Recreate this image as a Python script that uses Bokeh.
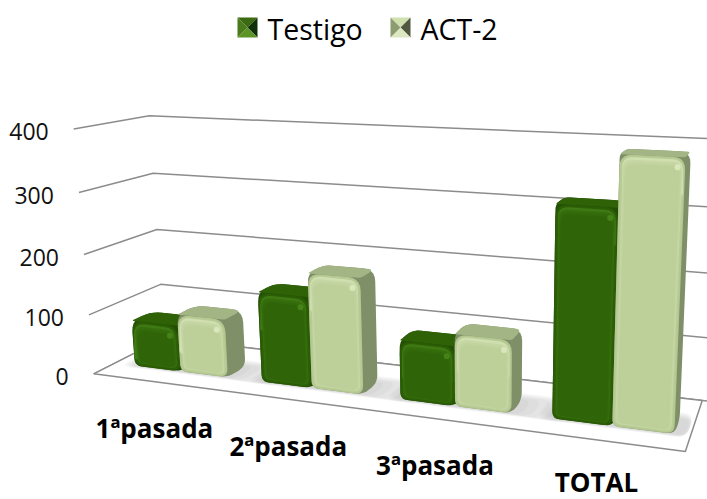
import numpy as np
from bokeh.embed import file_html
from bokeh.resources import INLINE
from bokeh.plotting import figure
from bokeh.core.properties import value

# ---- chart data
categories = ["1ªpasada", "2ªpasada", "3ªpasada", "TOTAL"]
testigo = [78, 148, 94, 318]
act2 = [97, 186, 113, 392]
series_names = ["Testigo", "ACT-2"]
y_ticks = [0, 100, 200, 300, 400]
Y_MAX = 400

FONT = "Open Sans"
W, H = 707, 499

# ---- perspective camera of the 3-D chart box: (u along categories, w depth, h value share) -> picture
calib_world = [(0, 0, 0), (0, 0, 1), (0, 1, 0), (0, 1, 1), (1, 1, 0), (1, 1, 1), (1, 0, 0), (1, 0, 1)]
calib_pix = [(92, 375), (75, 131), (165, 336), (147, 113), (704, 400), (712, 143), (682, 451), (700, 152)]


def fit_camera(world, pix):
    A, b = [], []
    for (u, w, h), (x, y) in zip(world, pix):
        A.append([u, w, h, 1, 0, 0, 0, 0, -x * u, -x * w, -x * h])
        b.append(x)
        A.append([0, 0, 0, 0, u, w, h, 1, -y * u, -y * w, -y * h])
        b.append(y)
    s = np.linalg.lstsq(np.array(A, float), np.array(b, float), rcond=None)[0]
    return np.append(s, 1).reshape(3, 4)


CAM = fit_camera(calib_world, calib_pix)


def proj(u, w, v):
    q = CAM @ np.array([u, w, v / Y_MAX, 1.0])
    return q[0] / q[2], q[1] / q[2]


def rounded(pts, r=8.0, steps=6):
    """Fillet every corner of a polygon with a radius given in pixels."""
    pts = np.array(pts, float)
    n = len(pts)
    rs = np.full(n, r) if np.isscalar(r) else np.array(r, float)
    out = []
    for i in range(n):
        c = pts[i]
        a = pts[i - 1]
        b = pts[(i + 1) % n]
        la = np.linalg.norm(a - c)
        lb = np.linalg.norm(b - c)
        rr = min(rs[i], la * 0.48, lb * 0.48)
        s = c + (a - c) / max(la, 1e-6) * rr
        e = c + (b - c) / max(lb, 1e-6) * rr
        for t in np.linspace(0, 1, steps):
            out.append((1 - t) ** 2 * s + 2 * t * (1 - t) * c + t ** 2 * e)
    return np.array(out)


def shrink(pts, dx, top, bottom):
    """Move the corners of a 4-point face (TL, TR, BR, BL) inwards, in pixels."""
    q = np.array(pts, float)
    q[0] += (dx, top)
    q[1] += (-dx, top)
    q[2] += (-dx, -bottom)
    q[3] += (dx, -bottom)
    return q


def rgb(c):
    return [int(c[i:i + 2], 16) for i in (1, 3, 5)]


def mix(c1, c2, t):
    a = np.array(rgb(c1), float)
    b = np.array(rgb(c2), float)
    r = a + (b - a) * t
    return "#%02x%02x%02x" % tuple(int(round(v)) for v in r)


p = figure(width=W, height=H, x_range=(0, W), y_range=(H, 0), toolbar_location=None,
           output_backend="svg", min_border=0,
           background_fill_color="white", border_fill_color="white")
p.axis.visible = False
p.grid.visible = False
p.outline_line_color = None


def poly(pts, color, alpha=1.0):
    pts = np.array(pts)
    p.patch(pts[:, 0], pts[:, 1], fill_color=color, fill_alpha=alpha, line_color=None)


GRID = "#8c8c8c"
# walls' gridlines
for t in y_ticks:
    a = proj(0, 0, t)
    b = proj(0, 1, t)
    c = proj(1.03, 1, t)
    p.line([a[0], b[0], c[0]], [a[1], b[1], c[1]], line_color=GRID, line_width=1.5)

# floor, with its left and back edges behind the bars
fl = [proj(0, 0, 0), proj(1, 0, 0), proj(1, 1, 0), proj(0, 1, 0)]
poly(fl, "white")
p.line([fl[2][0], fl[3][0], fl[0][0]], [fl[2][1], fl[3][1], fl[0][1]], line_color=GRID, line_width=1.5)

# ---- bars
CAT_W = 1 / len(categories)
BAR_U = 0.37 * CAT_W
U_SHIFT = 0.009
W0, W1 = 0.28, 0.56


def shadow(u0, u1):
    for k in range(6):
        e = 0.004 * (6 - k)
        ur = min(u1 + e * 4, 0.995)
        pts = [proj(u0 - e, W0 - e * 2, 0), proj(ur, W0 - e * 2, 0),
               proj(ur, W1 + e * 6, 0), proj(u0 - e, W1 + e * 6, 0)]
        poly(rounded(pts, 10), "#808080", 0.06)


def bar(u0, u1, v, front, edge, top_c, side, hi):
    a, b = W0, W1
    F = [proj(u0, a, v), proj(u1, a, v), proj(u1, a, 0), proj(u0, a, 0)]
    T = [proj(u0, b, v), proj(u1, b, v), proj(u1, a, v), proj(u0, a, v)]
    hull = [F[0], T[0], T[1], proj(u1, b, 0), F[2], F[3]]
    poly(rounded(hull, [12, 12, 12, 8, 8, 7]), side)
    poly(rounded(T, [11, 11, 2, 2]), top_c)
    # soft rim of the front face, then the top bevel, then the flat body
    poly(rounded(F, [13, 13, 9, 7]), edge)
    for k, t in enumerate([0.35, 0.7]):
        poly(rounded(shrink(F, 1 + k, 1 + k, 1 + k), [12, 12, 8, 6]), mix(edge, front, t))
    top_band = shrink(F, 2.5, 2.5, 0)
    top_band[2] = (top_band[1][0], top_band[1][1] + 36)
    top_band[3] = (top_band[0][0], top_band[0][1] + 36)
    poly(rounded(top_band, [11, 11, 3, 3]), mix(front, hi, 0.55))
    for k, t in enumerate([0.35, 0.7, 1.0]):
        poly(rounded(shrink(F, 3 + k * 1.2, 5 + k * 2.2, 2.5 + k * 0.5), [10, 10, 7, 5]), mix(hi, front, 0.6 + t * 0.4))
    # glossy corner at the upper right of the face
    p.scatter([F[1][0] - 8], [F[1][1] + 10], size=6, fill_color=hi, fill_alpha=0.8, line_color=None)


for i in range(len(categories)):
    um = (i + 0.5) * CAT_W + U_SHIFT
    shadow(um - BAR_U, um + BAR_U)
    bar(um - BAR_U, um, testigo[i], "#2f6408", "#2a5a06", "#2f6106", "#234f04", "#4a8a1c")
    bar(um, um + BAR_U, act2[i], "#bdd09a", "#b2c690", "#a3b485", "#7f8f68", "#e0ecc2")

# floor's front and right edges stay in front of the shadows
p.line([fl[0][0], fl[1][0], fl[2][0]], [fl[0][1], fl[1][1], fl[2][1]], line_color=GRID, line_width=1.5)

# ---- value labels
for t in y_ticks:
    x, y = proj(0, 0, t)
    p.text([x - 25], [y + 3], text=[str(t)], text_font=value(FONT), text_font_size="23px",
           text_align="right", text_baseline="middle", text_color="#111111")

# ---- category labels
for i, c in enumerate(categories):
    x, y = proj((i + 0.5) * CAT_W, 0, 0)
    p.text([x - 2], [min(y + 46, 481)], text=[c], text_font=value(FONT), text_font_size="26px",
           text_font_style="bold", text_align="center", text_baseline="middle", text_color="black")

# ---- legend
leg_cols = [("#3c6a12", "#10300a", "#5c9426", "#4a7a1c"),
            ("#cfe0ae", "#50583f", "#dde8c2", "#8d9c70")]
leg_x = [237, 390]
text_x = [267, 420]
S = 20
cy = 27
for (x0, tx, name, col) in zip(leg_x, text_x, series_names, leg_cols):
    y0 = cy - S / 2
    c = (x0 + S / 2, cy)
    poly([(x0, y0), (x0 + S, y0), c], col[0])
    poly([(x0 + S, y0), (x0 + S, y0 + S), c], col[1])
    poly([(x0, y0 + S), (x0 + S, y0 + S), c], col[2])
    poly([(x0, y0), (x0, y0 + S), c], col[3])
    p.text([tx], [cy + 1], text=[name], text_font=value(FONT), text_font_size="28.5px",
           text_align="left", text_baseline="middle", text_color="black")

open("out.html", "w").write(file_html(p, INLINE))
